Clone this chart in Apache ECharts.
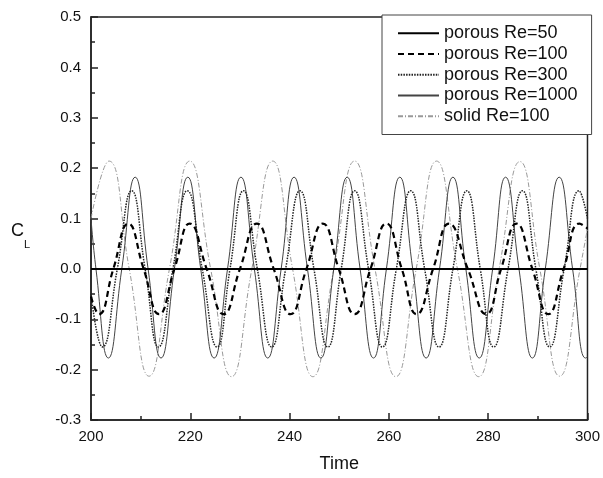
<!DOCTYPE html>
<html>
<head>
<meta charset="utf-8">
<script src="https://cdn.jsdelivr.net/npm/echarts@6/dist/echarts.min.js"></script>
<style>
html,body{margin:0;padding:0;background:#fff;}
#chart{width:603px;height:478px;}
</style>
</head>
<body>
<div id="chart"></div>
<script>
// Data (time, C_L)
const seriesNames = ['porous Re=50', 'porous Re=100', 'porous Re=300', 'porous Re=1000', 'solid Re=100'];

const porousRe50 = [[200, 0], [300, 0]];

const porousRe100 = [
  [200, -0.055], [201.6, -0.09], [204.5, 0], [207.5, 0.09], [210.6, 0], [213.7, -0.09],
  [216.8, 0], [219.9, 0.09], [223.3, 0], [226.7, -0.09], [230.0, 0], [233.4, 0.09],
  [236.8, 0], [240.2, -0.09], [243.4, 0], [246.7, 0.09], [249.9, 0], [253.1, -0.09],
  [256.3, 0], [259.5, 0.09], [262.6, 0], [265.6, -0.09], [268.9, 0], [272.1, 0.09],
  [275.9, 0], [279.6, -0.09], [282.6, 0], [285.7, 0.09], [288.9, 0], [292.1, -0.09],
  [295.2, 0], [298.4, 0.09], [300, 0.08]
];

const porousRe300 = [
  [200, -0.05], [202.3, -0.155], [205.3, 0], [208.2, 0.155], [210.9, 0], [213.6, -0.155],
  [216.5, 0], [219.4, 0.155], [222.4, 0], [225.4, -0.155], [228.0, 0], [230.7, 0.155],
  [233.5, 0], [236.4, -0.155], [239.2, 0], [242.1, 0.155], [244.9, 0], [247.7, -0.155],
  [250.4, 0], [253.1, 0.155], [255.9, 0], [258.7, -0.155], [261.5, 0], [264.4, 0.155],
  [267.2, 0], [270.1, -0.155], [272.9, 0], [275.7, 0.155], [278.4, 0], [281.1, -0.155],
  [284.0, 0], [286.9, 0.155], [289.6, 0], [292.4, -0.155], [295.3, 0], [298.3, 0.155],
  [300, 0.1]
];

const porousRe1000 = [
  [200, 0.1], [201.0, 0], [203.5, -0.177], [206.2, 0], [208.9, 0.182], [211.5, 0],
  [214.1, -0.177], [216.8, 0], [219.5, 0.182], [222.1, 0], [224.8, -0.177], [227.5, 0],
  [230.2, 0.182], [232.9, 0], [235.6, -0.177], [238.3, 0], [240.9, 0.182], [243.6, 0],
  [246.3, -0.177], [248.9, 0], [251.6, 0.182], [254.2, 0], [256.9, -0.177], [259.5, 0],
  [262.2, 0.182], [264.8, 0], [267.5, -0.177], [270.2, 0], [272.9, 0.182], [275.5, 0],
  [278.2, -0.177], [280.9, 0], [283.5, 0.182], [286.2, 0], [288.9, -0.177], [291.5, 0],
  [294.3, 0.182], [297.0, 0], [299.6, -0.177], [300, -0.175]
];

const solidRe100 = [
  [200, 0.1], [203.6, 0.214], [207.7, 0], [211.7, -0.213], [215.8, 0], [219.9, 0.214],
  [224.1, 0], [228.3, -0.214], [232.4, 0], [236.6, 0.214], [240.6, 0], [244.7, -0.214],
  [248.9, 0], [253.1, 0.214], [257.2, 0], [261.4, -0.214], [265.5, 0], [269.6, 0.214],
  [273.8, 0], [278.1, -0.214], [282.2, 0], [286.4, 0.213], [290.4, 0], [294.4, -0.213],
  [298.5, 0], [300, 0.08]
];

const xTicks = {min: 200, max: 300, interval: 20, minorInterval: 10};
const yTicks = {min: -0.3, max: 0.5, interval: 0.1, minorInterval: 0.05};

const FONT = '"Liberation Sans", Arial, sans-serif';
const AX = '#222';
const chart = echarts.init(document.getElementById('chart'), null, {renderer: 'canvas'});

function lineSeries(name, data, color, width, type, z) {
  return {
    name: name, type: 'line', data: data, smooth: 0.5, symbol: 'none', showSymbol: false,
    z: z, animation: false,
    lineStyle: {color: color, width: width, type: type},
    itemStyle: {color: color}
  };
}

function minorAxis(t, pos) {
  return {
    type: 'value', position: pos, min: t.min, max: t.max, interval: t.minorInterval,
    axisLine: {show: false, onZero: false}, axisLabel: {show: false}, splitLine: {show: false},
    axisTick: {show: true, inside: true, length: 4, lineStyle: {color: AX, width: 1.5}}
  };
}

chart.setOption({
  backgroundColor: '#fff',
  animation: false,
  grid: {left: 91, right: 13, top: 17, bottom: 55, show: true, borderColor: AX, borderWidth: 1.5, backgroundColor: 'transparent'},
  legend: {
    orient: 'vertical', left: 382, top: 15,
    padding: [8, 14, 8, 15], itemGap: 0, itemWidth: 41, itemHeight: 14,
    backgroundColor: '#fff', borderColor: '#444', borderWidth: 1, borderRadius: 0,
    itemStyle: {opacity: 0, borderWidth: 0},
    textStyle: {fontFamily: FONT, fontSize: 18, color: '#111', lineHeight: 20.7},
    data: seriesNames
  },
  xAxis: [{
    type: 'value', position: 'bottom', min: xTicks.min, max: xTicks.max, interval: xTicks.interval,
    name: 'Time', nameLocation: 'middle', nameGap: 35,
    nameTextStyle: {fontFamily: FONT, fontSize: 18, color: '#111'},
    axisLine: {show: true, onZero: false, lineStyle: {color: AX, width: 1.5}},
    axisTick: {show: true, inside: true, length: 7, lineStyle: {color: AX, width: 1.5}},
    axisLabel: {fontFamily: FONT, fontSize: 15, color: '#111', margin: 9},
    splitLine: {show: false}
  }, minorAxis(xTicks, 'bottom')],
  yAxis: [{
    type: 'value', position: 'left', min: yTicks.min, max: yTicks.max, interval: yTicks.interval,
    axisLine: {show: true, onZero: false, lineStyle: {color: AX, width: 1.5}},
    axisTick: {show: true, inside: true, length: 7, lineStyle: {color: AX, width: 1.5}},
    axisLabel: {fontFamily: FONT, fontSize: 15, color: '#111', margin: 10,
      formatter: function (v) { return (Math.round(v * 10) / 10).toFixed(1); }},
    splitLine: {show: false}
  }, minorAxis(yTicks, 'left')],
  graphic: [
    {type: 'text', left: 11, top: 222, style: {text: 'C', font: '18px ' + FONT, fill: '#111'}},
    {type: 'text', left: 24, top: 239, style: {text: 'L', font: '11px ' + FONT, fill: '#111'}}
  ],
  series: [
    lineSeries(seriesNames[0], porousRe50, '#000', 2, 'solid', 10),
    lineSeries(seriesNames[1], porousRe100, '#000', 2.2, [6, 4], 6),
    lineSeries(seriesNames[2], porousRe300, '#222', 1.5, [1.5, 1.2], 5),
    lineSeries(seriesNames[3], porousRe1000, '#444', 1, 'solid', 4),
    lineSeries(seriesNames[4], solidRe100, '#999', 1, [5, 2, 1, 2], 3)
  ]
});
</script>
</body>
</html>
